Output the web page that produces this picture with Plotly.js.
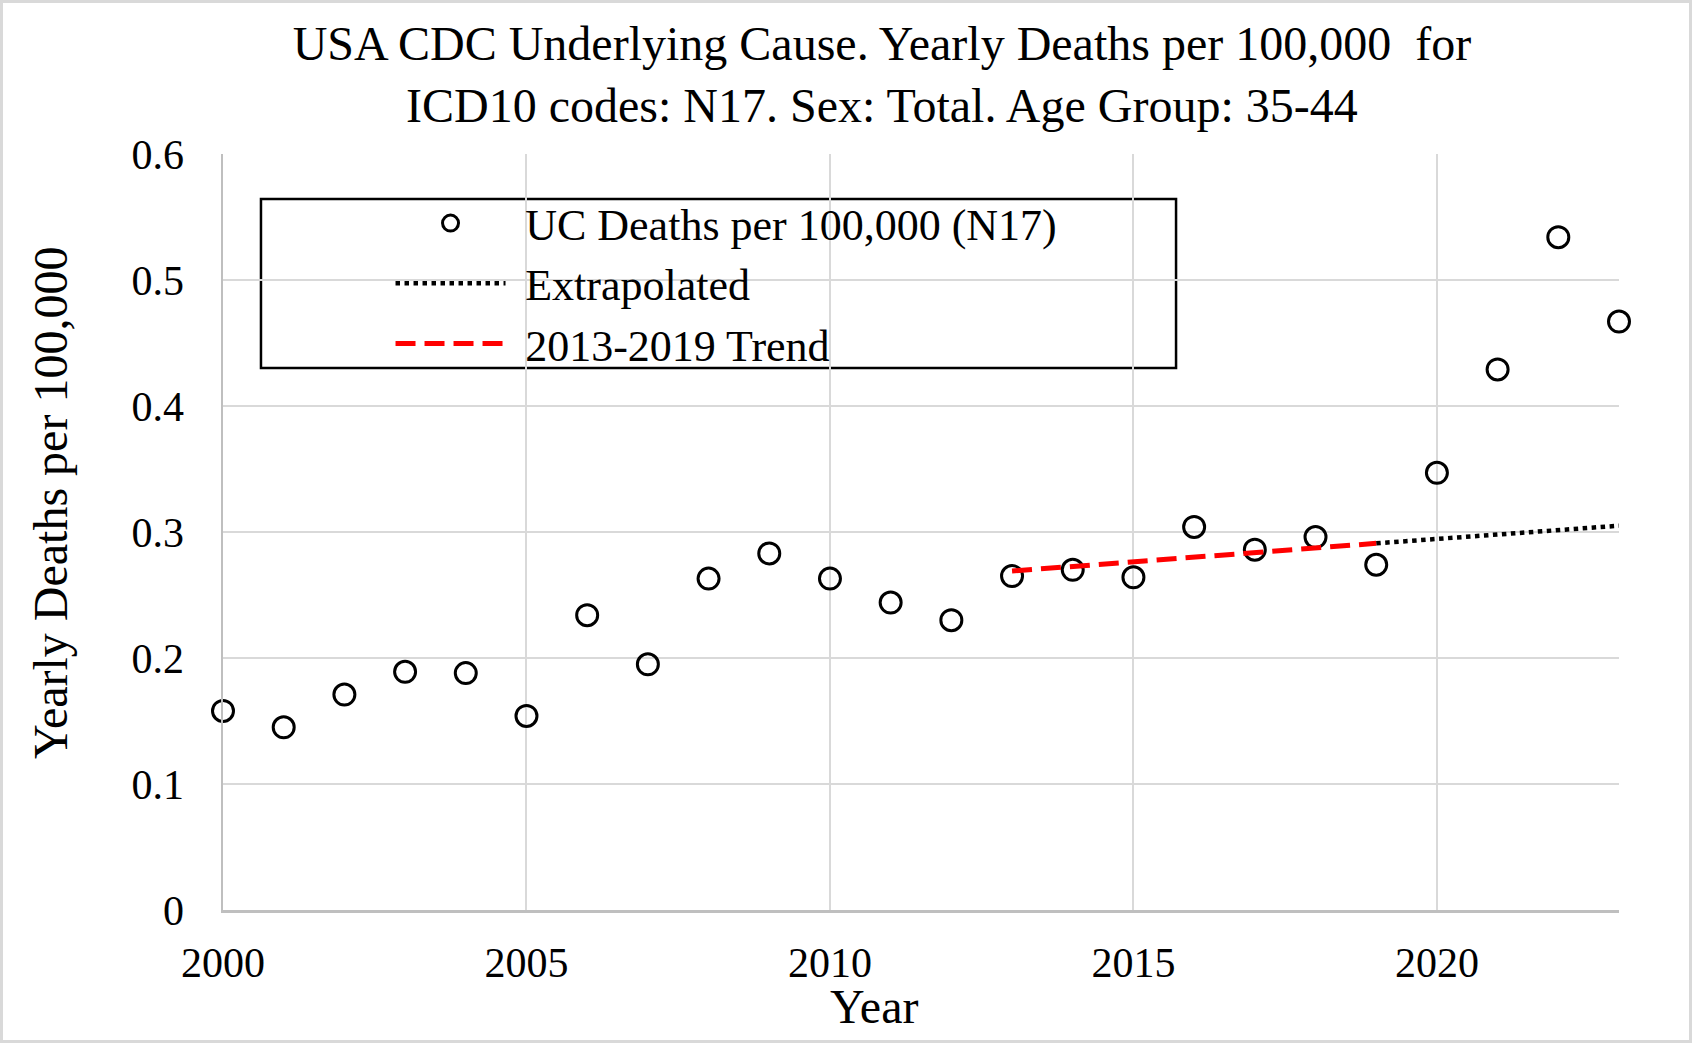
<!DOCTYPE html>
<html>
<head>
<meta charset="utf-8">
<script src="https://cdn.plot.ly/plotly-3.0.1.min.js"></script>
<style>
html,body{margin:0;padding:0;background:#fff;}
#frame{width:1692px;height:1043px;box-sizing:border-box;border:3px solid #d9d9d9;background:#fff;}
#chart{width:1686px;height:1037px;}
</style>
</head>
<body>
<div id="frame"><div id="chart"></div></div>
<script>
const years = [2000,2001,2002,2003,2004,2005,2006,2007,2008,2009,2010,2011,2012,2013,2014,2015,2016,2017,2018,2019,2020,2021,2022,2023];
const deathsPer100k = [0.158,0.145,0.171,0.189,0.188,0.154,0.234,0.195,0.263,0.283,0.263,0.244,0.230,0.265,0.270,0.264,0.304,0.286,0.296,0.274,0.347,0.429,0.534,0.467];

// 2013-2019 trend line end points
const trendYears = [2013, 2019];
const trendValues = [0.269, 0.291];

// Extrapolated trend 2019-2023
const extrapYears = [2019, 2023];
const extrapValues = [0.291, 0.305];

const xTicks = [2000, 2005, 2010, 2015, 2020];
const yTicks = [0, 0.1, 0.2, 0.3, 0.4, 0.5, 0.6];
const yTickText = ['0', '0.1', '0.2', '0.3', '0.4', '0.5', '0.6'];

const FONT = '"Liberation Serif", "Times New Roman", serif';
const GAP = '\u00a0\u200a';

const traces = [
  {
    x: years, y: deathsPer100k, type: 'scatter', mode: 'markers',
    name: GAP + 'UC Deaths per 100,000 (N17)',
    marker: {symbol: 'circle-open', size: 21, color: '#000000', line: {width: 3, color: '#000000'}},
    cliponaxis: false
  },
  {
    x: extrapYears, y: extrapValues, type: 'scatter', mode: 'lines',
    name: GAP + 'Extrapolated',
    line: {color: '#000000', width: 4.5, dash: 'dot'}
  },
  {
    x: trendYears, y: trendValues, type: 'scatter', mode: 'lines',
    name: GAP + '2013-2019 Trend',
    line: {color: '#ff0000', width: 5, dash: '20px,9px'}
  }
];

const layout = {
  width: 1686, height: 1037,
  margin: {l: 220, r: 70, t: 151, b: 130},
  paper_bgcolor: '#ffffff', plot_bgcolor: '#ffffff',
  font: {family: FONT, color: '#000000', size: 42},
  title: {
    text: 'USA CDC Underlying Cause. Yearly Deaths per 100,000  for<br>ICD10 codes: N17. Sex: Total. Age Group: 35-44',
    font: {family: FONT, size: 48, color: '#000000'},
    x: 0.5213, xref: 'container', xanchor: 'center',
    y: 0.9455, yref: 'container', yanchor: 'middle'
  },
  xaxis: {
    range: [2000, 2023],
    tickvals: xTicks, ticktext: xTicks.map(String),
    showgrid: true, gridcolor: '#d9d9d9', gridwidth: 2,
    showline: true, linecolor: '#bfbfbf', linewidth: 2.5,
    zeroline: false, ticks: '', ticklabelstandoff: 14,
    tickfont: {family: FONT, size: 42, color: '#000000'}
  },
  yaxis: {
    range: [0, 0.6],
    tickvals: yTicks, ticktext: yTickText,
    showgrid: true, gridcolor: '#d9d9d9', gridwidth: 2,
    showline: true, linecolor: '#bfbfbf', linewidth: 2.5,
    zeroline: false, ticks: '', ticklabelstandoff: 28,
    tickfont: {family: FONT, size: 42, color: '#000000'}
  },
  annotations: [
    {text: 'Year', xref: 'paper', yref: 'paper', x: 0.4663, y: -0.1283,
     xanchor: 'center', yanchor: 'middle', showarrow: false,
     font: {family: FONT, size: 48, color: '#000000'}},
    {text: 'Yearly Deaths per 100,000', xref: 'paper', yref: 'paper', x: -0.1232, y: 0.5384,
     xanchor: 'center', yanchor: 'middle', showarrow: false, textangle: -90,
     font: {family: FONT, size: 48, color: '#000000'}}
  ],
  showlegend: true,
  legend: {
    x: 0.12, xanchor: 'left', y: 0.955, yanchor: 'top',
    bgcolor: 'rgba(0,0,0,0)', borderwidth: 0,
    font: {family: FONT, size: 44, color: '#000000'},
    itemwidth: 110, tracegroupgap: 0
  },
  shapes: [
    {type: 'rect', xref: 'paper', yref: 'paper', x0: 0.0272, x1: 0.6827, y0: 0.7169, y1: 0.9405,
     line: {color: '#000000', width: 2.5}, fillcolor: 'rgba(255,255,255,1)', layer: 'below'}
  ]
};

Plotly.newPlot('chart', traces, layout, {displayModeBar: false, staticPlot: true});
</script>
</body>
</html>
